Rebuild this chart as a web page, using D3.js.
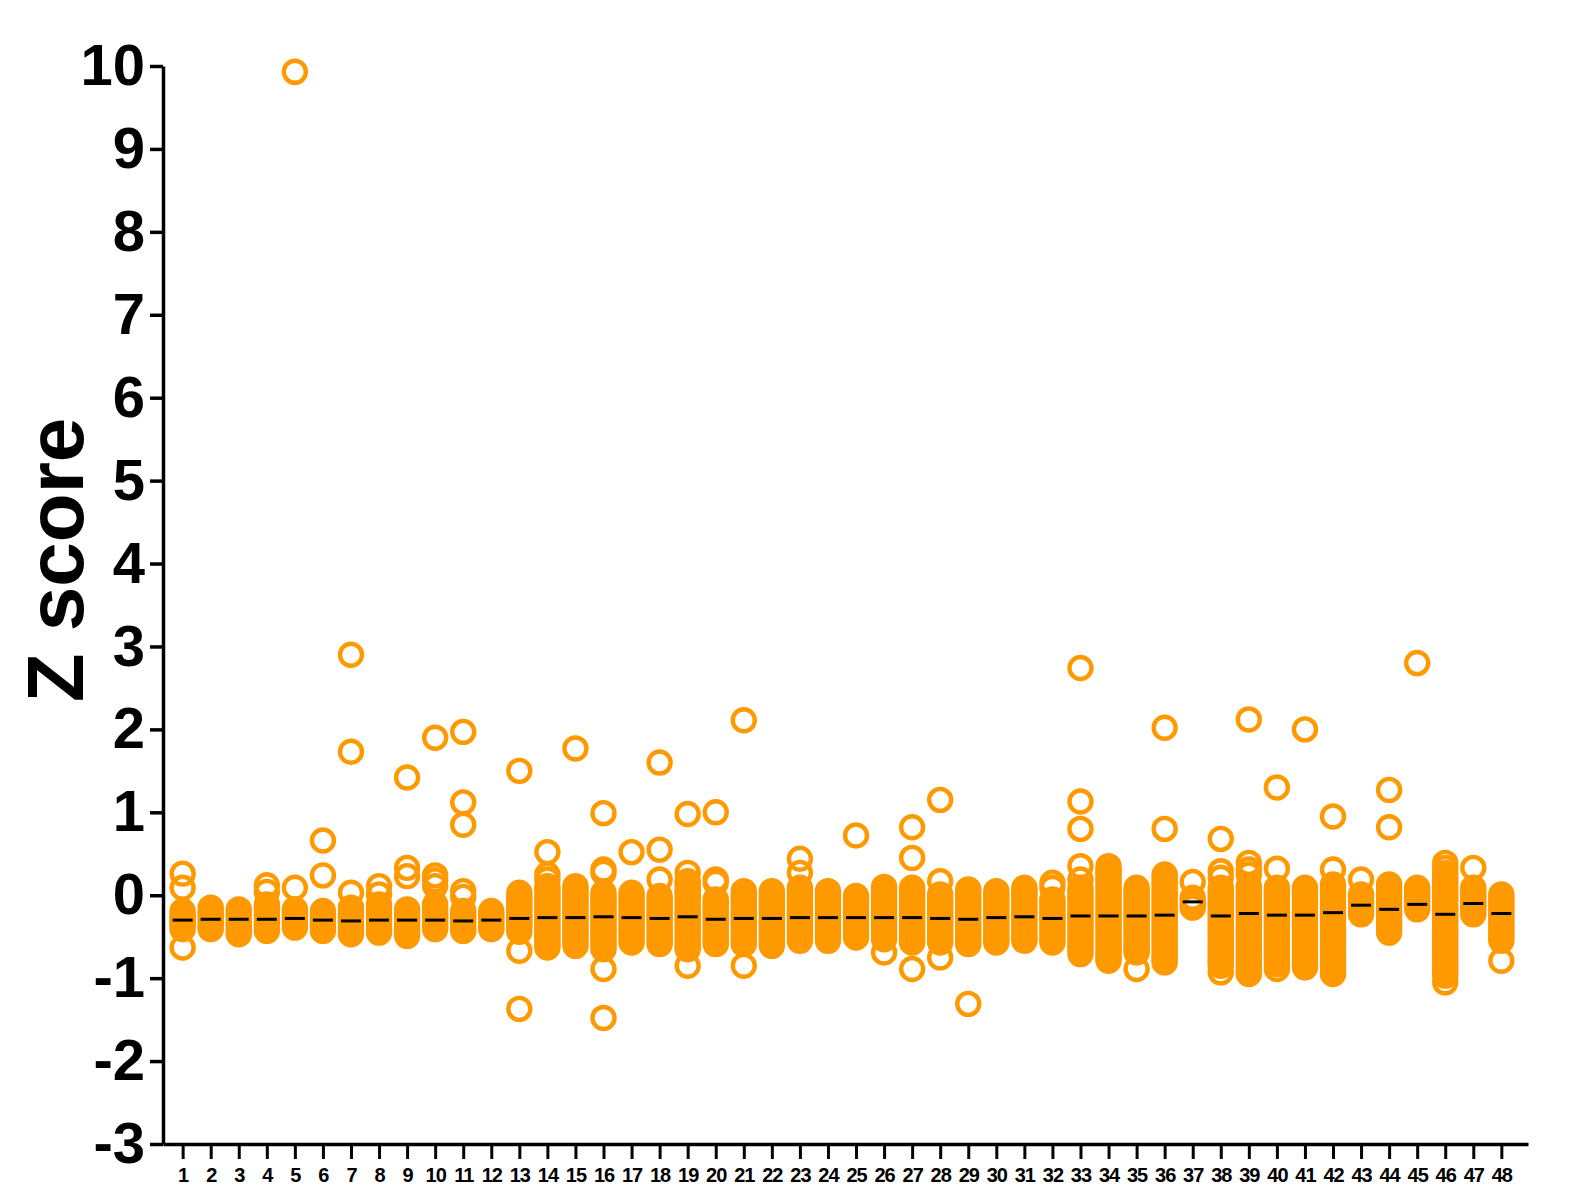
<!DOCTYPE html>
<html>
<head>
<meta charset="utf-8">
<script src="https://cdn.jsdelivr.net/npm/d3@7"></script>
<style>
  html, body { margin: 0; padding: 0; background: #fff; }
  svg { display: block; }
  text { font-family: "Liberation Sans", Arial, sans-serif; font-weight: bold; fill: #000; }
</style>
</head>
<body>
<svg id="chart" width="1582" height="1192"></svg>
<script>
// ---------- DATA ----------
const categories = ["1","2","3","4","5","6","7","8","9","10","11","12","13","14","15","16",
  "17","18","19","20","21","22","23","24","25","26","27","28","29","30","31","32",
  "33","34","35","36","37","38","39","40","41","42","43","44","45","46","47","48"];
const yTicks = [-3,-2,-1,0,1,2,3,4,5,6,7,8,9,10];
const yTickLabels = ["-3","-2","-1","0","1","2","3","4","5","6","7","8","9","10"];
const yLabel = "Z score";

const g01 = [0.26, 0.09, -0.19, -0.23, -0.26, -0.29, -0.31, -0.34, -0.37, -0.41, -0.63];
const g02 = [-0.15, -0.19, -0.23, -0.27, -0.30, -0.34, -0.38, -0.41];
const g03 = [-0.17, -0.21, -0.25, -0.29, -0.33, -0.37, -0.41, -0.44, -0.47];
const g04 = [0.12, 0.04, -0.11, -0.15, -0.19, -0.23, -0.27, -0.30, -0.34, -0.38, -0.43];
const g05 = [9.93, 0.09, -0.17, -0.21, -0.25, -0.28, -0.32, -0.36, -0.39];
const g06 = [0.66, 0.24, -0.19, -0.23, -0.27, -0.30, -0.34, -0.38, -0.43];
const g07 = [2.90, 1.73, 0.03, -0.15, -0.19, -0.23, -0.27, -0.31, -0.35, -0.39, -0.43, -0.47];
const g08 = [0.11, 0.01, -0.11, -0.15, -0.19, -0.23, -0.27, -0.30, -0.34, -0.38, -0.42, -0.45];
const g09 = [1.42, 0.33, 0.23, -0.17, -0.21, -0.25, -0.29, -0.32, -0.36, -0.40, -0.44, -0.49];
const g10 = [1.90, 0.24, 0.18, 0.11, -0.11, -0.15, -0.19, -0.23, -0.27, -0.30, -0.34, -0.38, -0.41];
const g11 = [1.97, 1.12, 0.85, 0.05, -0.02, -0.19, -0.23, -0.27, -0.31, -0.35, -0.39, -0.43];
const g12 = [-0.19, -0.23, -0.27, -0.30, -0.34, -0.38, -0.41];
const g13 = [1.50, 0.03, -0.01, -0.05, -0.09, -0.13, -0.17, -0.21, -0.25, -0.28, -0.32, -0.36, -0.40, -0.44, -0.67, -1.37];
const g14 = [0.52, 0.25, 0.19, 0.11, 0.07, 0.03, -0.01, -0.05, -0.09, -0.13, -0.17, -0.21, -0.25, -0.29, -0.33, -0.37, -0.41, -0.45, -0.49, -0.53, -0.57, -0.60, -0.63];
const g15 = [1.77, 0.11, 0.07, 0.03, -0.01, -0.05, -0.09, -0.13, -0.17, -0.21, -0.25, -0.29, -0.33, -0.37, -0.41, -0.45, -0.49, -0.53, -0.57, -0.61];
const g16 = [0.99, 0.31, 0.27, 0.03, -0.01, -0.05, -0.09, -0.13, -0.17, -0.21, -0.25, -0.29, -0.33, -0.37, -0.41, -0.45, -0.49, -0.53, -0.57, -0.61, -0.65, -0.89, -1.48];
const g17 = [0.52, 0.03, -0.01, -0.05, -0.09, -0.13, -0.17, -0.21, -0.25, -0.29, -0.33, -0.37, -0.41, -0.45, -0.49, -0.53, -0.57];
const g18 = [1.60, 0.55, 0.19, -0.01, -0.05, -0.09, -0.13, -0.17, -0.21, -0.25, -0.29, -0.33, -0.37, -0.41, -0.45, -0.49, -0.53, -0.56, -0.59];
const g19 = [0.98, 0.27, 0.17, 0.13, 0.09, 0.05, 0.01, -0.03, -0.07, -0.11, -0.15, -0.19, -0.23, -0.27, -0.31, -0.35, -0.39, -0.43, -0.47, -0.51, -0.55, -0.59, -0.62, -0.65, -0.85];
const g20 = [1.00, 0.19, 0.15, -0.05, -0.09, -0.13, -0.17, -0.21, -0.25, -0.29, -0.33, -0.37, -0.41, -0.45, -0.49, -0.53, -0.56, -0.59];
const g21 = [2.11, 0.05, 0.01, -0.03, -0.07, -0.11, -0.15, -0.19, -0.23, -0.27, -0.31, -0.35, -0.39, -0.43, -0.47, -0.51, -0.55, -0.59, -0.85];
const g22 = [0.05, 0.01, -0.03, -0.07, -0.11, -0.15, -0.19, -0.23, -0.27, -0.31, -0.35, -0.39, -0.43, -0.47, -0.51, -0.55, -0.58, -0.61];
const g23 = [0.44, 0.27, 0.09, 0.05, 0.01, -0.03, -0.07, -0.11, -0.15, -0.19, -0.23, -0.27, -0.31, -0.35, -0.39, -0.43, -0.47, -0.51, -0.55];
const g24 = [0.05, 0.01, -0.03, -0.07, -0.11, -0.15, -0.19, -0.23, -0.27, -0.31, -0.35, -0.39, -0.43, -0.47, -0.51, -0.55];
const g25 = [0.72, -0.01, -0.05, -0.09, -0.13, -0.17, -0.21, -0.25, -0.29, -0.33, -0.37, -0.41, -0.45, -0.48, -0.51];
const g26 = [0.10, 0.07, 0.03, -0.01, -0.05, -0.09, -0.13, -0.17, -0.21, -0.25, -0.29, -0.33, -0.37, -0.41, -0.45, -0.49, -0.53, -0.69];
const g27 = [0.82, 0.45, 0.09, 0.05, 0.01, -0.03, -0.07, -0.11, -0.15, -0.19, -0.23, -0.27, -0.31, -0.35, -0.39, -0.43, -0.47, -0.51, -0.54, -0.57, -0.89];
const g28 = [1.15, 0.17, 0.01, -0.03, -0.07, -0.11, -0.15, -0.19, -0.23, -0.27, -0.31, -0.35, -0.39, -0.43, -0.47, -0.51, -0.54, -0.57, -0.75];
const g29 = [0.07, 0.03, -0.01, -0.05, -0.09, -0.13, -0.17, -0.21, -0.25, -0.29, -0.33, -0.37, -0.41, -0.45, -0.49, -0.53, -0.56, -0.59, -1.31];
const g30 = [0.05, 0.01, -0.03, -0.07, -0.11, -0.15, -0.19, -0.23, -0.27, -0.31, -0.35, -0.39, -0.43, -0.47, -0.51, -0.54, -0.57];
const g31 = [0.09, 0.06, 0.02, -0.02, -0.06, -0.10, -0.14, -0.18, -0.22, -0.26, -0.30, -0.34, -0.38, -0.42, -0.46, -0.50, -0.53, -0.55];
const g32 = [0.15, 0.09, -0.05, -0.09, -0.13, -0.17, -0.21, -0.25, -0.29, -0.33, -0.37, -0.41, -0.45, -0.49, -0.53, -0.57];
const g33 = [2.74, 1.13, 0.80, 0.35, 0.19, 0.09, 0.05, 0.01, -0.03, -0.07, -0.11, -0.15, -0.19, -0.23, -0.27, -0.31, -0.35, -0.39, -0.43, -0.47, -0.51, -0.55, -0.59, -0.63, -0.66, -0.71];
const g34 = [0.35, 0.30, 0.27, 0.23, 0.19, 0.15, 0.11, 0.07, 0.03, -0.01, -0.05, -0.09, -0.13, -0.17, -0.21, -0.25, -0.29, -0.33, -0.37, -0.41, -0.45, -0.49, -0.53, -0.57, -0.61, -0.65, -0.69, -0.73, -0.76, -0.79];
const g35 = [0.09, 0.05, 0.01, -0.03, -0.07, -0.11, -0.15, -0.19, -0.23, -0.27, -0.31, -0.35, -0.39, -0.43, -0.47, -0.51, -0.55, -0.59, -0.63, -0.66, -0.69, -0.89];
const g36 = [2.02, 0.80, 0.25, 0.21, 0.17, 0.13, 0.09, 0.05, 0.01, -0.03, -0.07, -0.11, -0.15, -0.19, -0.23, -0.27, -0.31, -0.35, -0.39, -0.43, -0.47, -0.51, -0.55, -0.59, -0.63, -0.67, -0.71, -0.75, -0.78, -0.81];
const g37 = [0.16, -0.03, -0.08, -0.12, -0.15];
const g38 = [0.68, 0.29, 0.21, 0.09, 0.05, 0.01, -0.03, -0.07, -0.11, -0.15, -0.19, -0.23, -0.27, -0.31, -0.35, -0.39, -0.43, -0.47, -0.51, -0.55, -0.59, -0.63, -0.67, -0.71, -0.75, -0.79, -0.81, -0.85, -0.93];
const g39 = [2.12, 0.39, 0.31, 0.25, 0.11, 0.07, 0.03, -0.01, -0.05, -0.09, -0.13, -0.17, -0.21, -0.25, -0.29, -0.33, -0.37, -0.41, -0.45, -0.49, -0.53, -0.57, -0.61, -0.65, -0.69, -0.73, -0.77, -0.81, -0.85, -0.89, -0.93, -0.95];
const g40 = [1.30, 0.32, 0.09, 0.05, 0.01, -0.03, -0.07, -0.11, -0.15, -0.19, -0.23, -0.27, -0.31, -0.35, -0.39, -0.43, -0.47, -0.51, -0.55, -0.59, -0.63, -0.67, -0.71, -0.75, -0.79, -0.83, -0.89];
const g41 = [2.00, 0.09, 0.05, 0.01, -0.03, -0.07, -0.11, -0.15, -0.19, -0.23, -0.27, -0.31, -0.35, -0.39, -0.43, -0.47, -0.51, -0.55, -0.59, -0.63, -0.67, -0.71, -0.75, -0.79, -0.83, -0.87];
const g42 = [0.95, 0.31, 0.13, 0.09, 0.05, 0.01, -0.03, -0.07, -0.11, -0.15, -0.19, -0.23, -0.27, -0.31, -0.35, -0.39, -0.43, -0.47, -0.51, -0.55, -0.59, -0.63, -0.67, -0.71, -0.75, -0.79, -0.83, -0.87, -0.91, -0.95];
const g43 = [0.19, 0.01, -0.03, -0.07, -0.11, -0.15, -0.19, -0.23];
const g44 = [1.27, 0.82, 0.13, 0.09, 0.05, 0.01, -0.03, -0.07, -0.11, -0.15, -0.19, -0.23, -0.27, -0.31, -0.35, -0.39, -0.42, -0.45];
const g45 = [2.80, 0.09, 0.07, 0.03, -0.01, -0.05, -0.09, -0.13, -0.17];
const g46 = [0.39, 0.33, 0.27, 0.23, 0.19, 0.15, 0.11, 0.07, 0.03, -0.01, -0.05, -0.09, -0.13, -0.17, -0.21, -0.25, -0.29, -0.33, -0.37, -0.41, -0.45, -0.49, -0.53, -0.57, -0.61, -0.65, -0.69, -0.73, -0.77, -0.81, -0.85, -0.89, -0.93, -0.97, -1.05];
const g47 = [0.33, 0.09, 0.05, 0.01, -0.03, -0.07, -0.11, -0.15, -0.19, -0.23];
const g48 = [0.01, -0.03, -0.07, -0.11, -0.15, -0.19, -0.23, -0.27, -0.31, -0.35, -0.39, -0.43, -0.47, -0.51, -0.55, -0.79];

const groupValues = [g01,g02,g03,g04,g05,g06,g07,g08,g09,g10,g11,g12,g13,g14,g15,g16,
  g17,g18,g19,g20,g21,g22,g23,g24,g25,g26,g27,g28,g29,g30,g31,g32,
  g33,g34,g35,g36,g37,g38,g39,g40,g41,g42,g43,g44,g45,g46,g47,g48];

const medians = [-0.30,-0.29,-0.29,-0.29,-0.28,-0.30,-0.31,-0.30,-0.30,-0.30,-0.31,-0.30,
  -0.28,-0.27,-0.27,-0.26,-0.27,-0.28,-0.26,-0.29,-0.28,-0.28,-0.27,-0.27,
  -0.27,-0.27,-0.27,-0.28,-0.29,-0.27,-0.26,-0.28,-0.25,-0.25,-0.25,-0.24,
  -0.08,-0.25,-0.22,-0.24,-0.24,-0.21,-0.12,-0.17,-0.11,-0.23,-0.10,-0.22];

// ---------- CHART ----------
const svg = d3.select("#chart");
const ORANGE = "#ff9900";

const x = d3.scaleLinear().domain([0.3, 48.95]).range([163, 1528]);
const y = d3.scaleLinear().domain([-3, 10]).range([1144, 66]);

const points = [];
groupValues.forEach((arr, i) => arr.forEach(v => points.push({ c: i + 1, v })));

// points
svg.append("g")
  .selectAll("circle")
  .data(points)
  .join("circle")
  .attr("cx", d => x(d.c))
  .attr("cy", d => y(d.v))
  .attr("r", 11)
  .attr("fill", "none")
  .attr("stroke", ORANGE)
  .attr("stroke-width", 4.4);

// medians
svg.append("g")
  .selectAll("line")
  .data(medians)
  .join("line")
  .attr("x1", (d, i) => x(i + 1) - 10)
  .attr("x2", (d, i) => x(i + 1) + 10)
  .attr("y1", d => y(d))
  .attr("y2", d => y(d))
  .attr("stroke", "#000")
  .attr("stroke-width", 3);

// y axis
const yAxis = svg.append("g")
  .attr("transform", "translate(163,0)")
  .call(d3.axisLeft(y).tickValues(yTicks).tickFormat((d, i) => yTickLabels[i])
    .tickSize(13).tickSizeOuter(0).tickPadding(5));
yAxis.select(".domain").attr("stroke", "#000").attr("stroke-width", 3.5);
yAxis.selectAll(".tick line").attr("stroke", "#000").attr("stroke-width", 3.5);
yAxis.selectAll(".tick text")
  .style("font-size", "58px")
  .style("font-weight", "bold")
  .style("font-family", "'Liberation Sans', Arial, sans-serif")
  .attr("fill", "#000");

// x axis
const xAxis = svg.append("g")
  .attr("transform", "translate(0,1144)")
  .call(d3.axisBottom(x).tickValues(categories.map((c, i) => i + 1))
    .tickFormat((d, i) => categories[i])
    .tickSize(15).tickSizeOuter(0).tickPadding(9));
xAxis.select(".domain").attr("stroke", "#000").attr("stroke-width", 3.5);
xAxis.selectAll(".tick line").attr("stroke", "#000").attr("stroke-width", 3);
xAxis.selectAll(".tick text")
  .style("font-size", "20px")
  .style("font-weight", "bold")
  .style("letter-spacing", "-1px")
  .style("font-family", "'Liberation Sans', Arial, sans-serif")
  .attr("fill", "#000");

// y label
svg.append("text")
  .attr("transform", "rotate(-90)")
  .attr("x", -560)
  .attr("y", 83)
  .attr("text-anchor", "middle")
  .style("font-size", "80px")
  .text(yLabel);
</script>
</body>
</html>
